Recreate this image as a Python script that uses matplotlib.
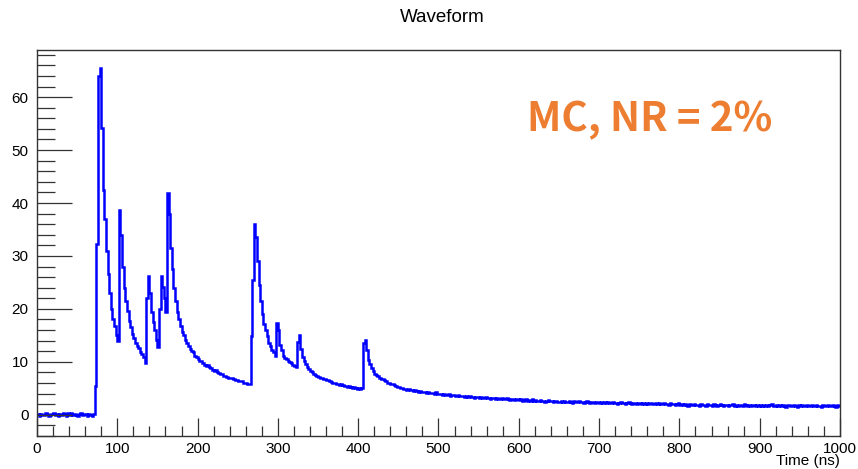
import matplotlib
matplotlib.use("Agg")
import matplotlib.pyplot as plt
from matplotlib.ticker import MultipleLocator
import numpy as np

# waveform, 2 ns per bin, 0..1000 ns
bin_width = 2.0
amplitude = [
    # 0 - 100 ns
    0.1, -0.2, 0.2, 0.0, -0.1, 0.3, 0.1, -0.2, 0.0, 0.2,
    0.3, -0.1, 0.1, -0.3, 0.2, 0.0, 0.4, 0.1, -0.2, 0.3,
    0.0, 0.4, -0.1, 0.2, 0.0, -0.2, 0.1, 0.3, -0.1, 0.2,
    0.1, -0.2, 0.2, 0.0, -0.3, 0.1, 5.4, 32.3, 64.0, 65.5,
    54.1, 42.4, 37.0, 31.0, 26.5, 23.0, 20.0, 18.0, 16.8, 15.0,
    # 100 - 200 ns
    14.0, 38.7, 34.0, 28.0, 24.0, 21.5, 19.6, 17.8, 16.5, 15.3,
    14.5, 13.6, 13.0, 12.6, 11.8, 11.4, 11.0, 9.8, 22.0, 26.2,
    23.0, 19.5, 17.5, 16.0, 14.2, 12.8, 20.0, 26.2, 24.2, 22.0,
    19.5, 41.8, 38.0, 31.5, 27.5, 24.0, 21.5, 19.5, 18.0, 16.8,
    15.6, 15.0, 14.2, 13.6, 13.0, 12.4, 12.1, 11.9, 11.2, 10.9,
    # 200 - 300 ns
    10.6, 10.2, 10.1, 9.7, 9.5, 9.3, 9.4, 9.0, 8.8, 8.5,
    8.3, 8.4, 8.0, 7.9, 7.7, 7.8, 7.4, 7.3, 7.2, 7.0,
    6.9, 7.0, 6.7, 6.6, 6.5, 6.4, 6.3, 6.3, 6.1, 6.0,
    6.1, 5.9, 5.8, 14.9, 25.5, 36.0, 33.5, 29.0, 24.5, 21.5,
    19.0, 17.2, 16.0, 14.8, 13.6, 13.0, 12.3, 11.8, 11.2, 17.3,
    # 300 - 400 ns
    16.0, 13.2, 12.2, 11.2, 10.8, 10.5, 10.2, 9.9, 9.7, 9.5,
    9.2, 9.0, 13.8, 15.0, 12.5, 11.0, 10.2, 9.6, 9.1, 8.6,
    8.2, 8.0, 7.8, 7.6, 7.3, 7.1, 6.9, 6.9, 6.7, 6.8,
    6.6, 6.5, 6.3, 6.2, 6.0, 6.1, 5.9, 5.8, 5.7, 5.9,
    5.6, 5.5, 5.4, 5.3, 5.4, 5.2, 5.1, 5.2, 5.0, 4.9,
    # 400 - 500 ns
    5.0, 4.9, 5.0, 13.5, 14.2, 12.3, 10.4, 9.6, 8.8, 8.2,
    7.8, 7.5, 7.3, 7.0, 6.8, 6.7, 6.5, 6.3, 6.1, 6.1,
    5.9, 5.8, 5.6, 5.5, 5.3, 5.2, 5.0, 5.1, 4.9, 4.8,
    4.7, 4.8, 4.6, 4.7, 4.5, 4.6, 4.5, 4.4, 4.5, 4.3,
    4.3, 4.4, 4.2, 4.3, 4.2, 4.1, 4.2, 4.0, 4.4, 3.9,
    # 500 - 600 ns
    4.0, 3.9, 3.8, 3.9, 3.7, 3.8, 3.9, 3.6, 3.7, 3.8,
    3.6, 3.5, 3.7, 3.6, 3.5, 3.6, 3.4, 3.5, 3.4, 3.5,
    3.3, 3.4, 3.2, 3.3, 3.4, 3.2, 3.3, 3.1, 3.2, 3.3,
    3.1, 3.2, 3.0, 3.1, 3.2, 3.0, 3.1, 2.9, 3.0, 3.1,
    2.9, 3.0, 3.1, 2.9, 2.8, 3.0, 2.9, 2.8, 3.0, 2.9,
    # 600 - 700 ns
    2.8, 2.9, 2.7, 2.8, 2.9, 2.7, 2.8, 2.6, 2.9, 2.7,
    2.8, 2.6, 2.7, 2.8, 2.6, 2.7, 2.5, 2.6, 2.8, 2.6,
    2.7, 2.5, 2.6, 2.7, 2.5, 2.4, 2.6, 2.5, 2.7, 2.5,
    2.4, 2.6, 2.5, 2.3, 2.6, 2.5, 2.4, 2.6, 2.4, 2.5,
    2.3, 2.5, 2.6, 2.4, 2.2, 2.5, 2.4, 2.3, 2.5, 2.4,
    # 700 - 800 ns
    2.3, 2.4, 2.2, 2.4, 2.3, 2.5, 2.2, 2.3, 2.4, 2.2,
    2.3, 2.1, 2.3, 2.4, 2.2, 2.3, 2.1, 2.2, 2.4, 2.2,
    2.1, 2.3, 2.2, 2.0, 2.3, 2.2, 2.1, 2.3, 2.1, 2.2,
    2.0, 2.2, 2.3, 2.1, 2.0, 2.2, 2.1, 2.3, 2.0, 2.1,
    2.2, 2.0, 2.1, 1.9, 2.2, 2.0, 2.1, 1.9, 2.0, 2.2,
    # 800 - 900 ns
    1.9, 2.0, 1.8, 2.1, 1.9, 1.7, 2.0, 1.8, 1.9, 2.1,
    1.8, 1.9, 1.7, 2.0, 1.8, 1.9, 1.6, 2.0, 1.8, 1.9,
    1.7, 2.0, 1.8, 1.6, 1.9, 2.1, 1.8, 1.7, 1.9, 1.8,
    1.6, 1.9, 1.8, 2.0, 1.7, 1.8, 1.6, 1.9, 1.8, 1.7,
    2.0, 1.8, 1.7, 1.9, 1.6, 1.8, 1.9, 1.7, 1.8, 1.6,
    # 900 - 1000 ns
    1.9, 1.7, 1.8, 1.6, 1.9, 1.7, 1.8, 2.0, 1.7, 1.6,
    1.8, 1.7, 1.9, 1.6, 1.8, 1.7, 1.5, 1.8, 1.9, 1.7,
    1.6, 1.8, 1.7, 1.5, 1.8, 1.7, 1.9, 1.6, 1.7, 1.8,
    1.6, 1.7, 1.9, 1.6, 1.7, 1.8, 1.6, 1.7, 1.5, 1.8,
    1.7, 1.6, 1.8, 1.7, 1.6, 1.8, 1.7, 1.5, 1.8, 1.6,
]

title = "Waveform"
x_label = "Time (ns)"
note = "MC, NR = 2%"

plt.rcParams['font.family'] = ['Liberation Sans', 'DejaVu Sans']

fig = plt.figure(figsize=(8.58, 4.69), dpi=100)
ax = fig.add_axes([0.0431, 0.0704, 0.9359, 0.8230])

edges = np.arange(len(amplitude) + 1) * bin_width
ax.stairs(amplitude, edges, color='#0000ff', linewidth=1.8, baseline=None)

ax.set_xlim(0, 1000)
ax.set_ylim(-4, 68.9)

ax.xaxis.set_major_locator(MultipleLocator(100))
ax.xaxis.set_minor_locator(MultipleLocator(20))
ax.yaxis.set_major_locator(MultipleLocator(10))
ax.yaxis.set_minor_locator(MultipleLocator(2))

ax.tick_params(axis='both', which='both', direction='in', top=False, right=False,
               labelsize=11, color='#333333', width=0.9)
ax.tick_params(axis='x', which='major', length=13, pad=4)
ax.tick_params(axis='x', which='minor', length=7)
ax.tick_params(axis='y', which='major', length=25, pad=6)
ax.tick_params(axis='y', which='minor', length=13)

for s in ax.spines.values():
    s.set_color('#333333')
    s.set_linewidth(1.0)

fig.text(0.515, 0.962, title, ha='center', va='center', fontsize=13.5)
fig.text(0.979, 0.017, x_label, ha='right', va='center', fontsize=11)

ax.text(0.763, 0.82, note, transform=ax.transAxes, ha='center', va='center',
        fontsize=29, fontweight='bold', color='#ed7d31',
        family=['Noto Sans CJK SC', 'DejaVu Sans'])

fig.savefig('out.png', dpi=100)
